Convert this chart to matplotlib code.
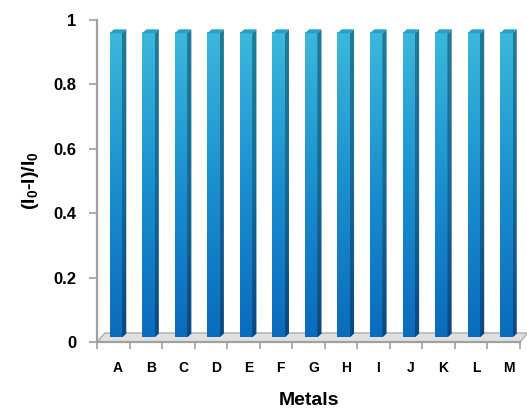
import numpy as np
import matplotlib
matplotlib.use("Agg")
import matplotlib.pyplot as plt
from matplotlib.colors import LinearSegmentedColormap
from matplotlib.patches import Polygon

metals = ["A", "B", "C", "D", "E", "F", "G", "H", "I", "J", "K", "L", "M"]
quench = [0.945, 0.945, 0.945, 0.945, 0.945, 0.945, 0.945, 0.945, 0.945, 0.945, 0.945, 0.945, 0.945]
yticks = [0, 0.2, 0.4, 0.6, 0.8, 1]
ytick_labels = ["0", "0.2", "0.4", "0.6", "0.8", "1"]

plt.rcParams["font.family"] = ["Liberation Sans", "DejaVu Sans"]
plt.rcParams["font.weight"] = "bold"
plt.rcParams["mathtext.fontset"] = "custom"
plt.rcParams["mathtext.rm"] = "Liberation Sans:bold"
plt.rcParams["mathtext.it"] = "Liberation Sans:bold"

fig = plt.figure(figsize=(5.27, 4.09), dpi=100)
ax = fig.add_axes([97 / 527, 67 / 409, 423 / 527, 322 / 409])
ax.set_xlim(0, len(metals))
ax.set_ylim(0, 1)

# 3d look: floor depth, bar offset and bar depth (data units)
fdx, fdy = 0.24, 0.028
bx0, by0 = 0.12, 0.014
bw = 0.38
bdx, bdy = 0.13, 0.012

front_cm = LinearSegmentedColormap.from_list("front", ["#0a6bbd", "#1b8fcf", "#3cb8dc"])
side_cm = LinearSegmentedColormap.from_list("side", ["#0a4780", "#166a95", "#1f7c96"])
grad = np.linspace(0, 1, 256).reshape(-1, 1)

# floor slab
floor = Polygon([(0, 0), (len(metals), 0), (len(metals) + fdx, fdy), (fdx, fdy)],
                closed=True, facecolor="#e0e0e0", edgecolor="#a6a6a6", lw=0.9,
                clip_on=False, zorder=1)
ax.add_patch(floor)

for i, v in enumerate(quench):
    x0 = i + 0.27 + bx0
    y0 = by0
    x1 = x0 + bw
    y1 = y0 + v
    # front face
    ax.imshow(grad, cmap=front_cm, origin="lower", aspect="auto",
              extent=[x0, x1, y0, y1], zorder=3)
    # side face
    side = Polygon([(x1, y0), (x1 + bdx, y0 + bdy), (x1 + bdx, y1 + bdy), (x1, y1)],
                   closed=True, facecolor="none", edgecolor="none", transform=ax.transData)
    ax.add_patch(side)
    im = ax.imshow(grad, cmap=side_cm, origin="lower", aspect="auto",
                   extent=[x1, x1 + bdx, y0, y1 + bdy], zorder=3)
    im.set_clip_path(side)
    # top face
    ax.add_patch(Polygon([(x0, y1), (x1, y1), (x1 + bdx, y1 + bdy), (x0 + bdx, y1 + bdy)],
                         closed=True, facecolor="#2a9fc5", edgecolor="none", zorder=3,
                         clip_on=False))

ax.set_xlim(0, len(metals))
ax.set_ylim(0, 1)

for s in ["top", "right"]:
    ax.spines[s].set_visible(False)
for s in ["left", "bottom"]:
    ax.spines[s].set_color("#a0a0a0")
    ax.spines[s].set_linewidth(1.6)
    ax.spines[s].set_zorder(2)

ax.set_yticks(yticks)
ax.set_yticklabels(ytick_labels, fontsize=12, fontweight="bold")
ax.tick_params(axis="y", length=6, width=1.2, color="#a0a0a0", pad=9)

ax.set_xticks(np.arange(len(metals) + 1))
ax.set_xticklabels([])
ax.set_xticks(np.arange(len(metals)) + 0.65, minor=True)
ax.set_xticklabels(metals, minor=True, fontsize=10, fontweight="bold")
ax.tick_params(axis="x", which="major", length=5, width=1.2, color="#a0a0a0")
ax.tick_params(axis="x", which="minor", length=0, pad=14)

ax.set_xlabel("Metals", fontsize=14, fontweight="bold", labelpad=12)
ax.set_ylabel("(I$_0$-I)/I$_0$", fontsize=14, fontweight="bold", labelpad=9)

fig.savefig("out.png", dpi=100)
